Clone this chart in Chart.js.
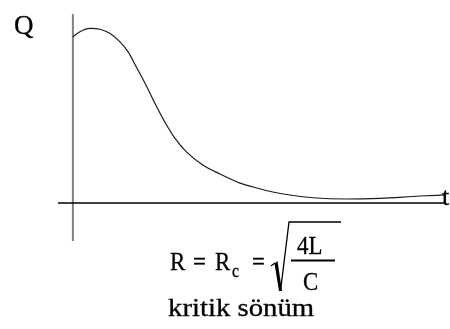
<!DOCTYPE html>
<html>
<head>
<meta charset="utf-8">
<script src="https://cdn.jsdelivr.net/npm/chart.js@4/dist/chart.umd.min.js"></script>
<style>
  html, body { margin: 0; padding: 0; background: #fff; }
  #c { display: block; }
</style>
</head>
<body>
<canvas id="c" width="450" height="329"></canvas>
<script>
// Charge on the capacitor vs time, critically damped RLC circuit
const times  = [0, 0.19, 0.46, 0.73, 0.99, 1.26, 1.48, 1.72, 1.99, 2.2, 2.47, 2.74, 3.06, 3.49, 3.95, 4.49, 4.94, 5.37, 5.83, 6.45, 7.36, 8.25, 9.33, 10];
const charge = [0.949, 0.979, 0.998, 0.993, 0.970, 0.922, 0.865, 0.771, 0.663, 0.571, 0.463, 0.371, 0.291, 0.217, 0.166, 0.114, 0.086, 0.063, 0.046, 0.030, 0.023, 0.027, 0.040, 0.046];

const yAxisTitle = 'Q';
const xAxisTitle = 't';
const caption = 'kritik sönüm';

const SERIF = "'Liberation Serif', 'Times New Roman', serif";

// draw text with an optional horizontal stretch, slightly emboldened
function txt(ctx, s, x, y, size, sx) {
  ctx.save();
  ctx.font = 'normal ' + size + 'px ' + SERIF;
  ctx.fillStyle = '#000';
  ctx.strokeStyle = '#000';
  ctx.lineWidth = 0.3;
  ctx.textBaseline = 'alphabetic';
  ctx.textAlign = 'left';
  ctx.translate(x, y);
  ctx.scale(sx || 1, 1);
  ctx.fillText(s, 0, 0);
  ctx.strokeText(s, 0, 0);
  ctx.restore();
}

const axesPlugin = {
  id: 'crossAxes',
  beforeDatasetsDraw(chart) {
    const { ctx, chartArea: a, scales: { x, y } } = chart;
    const x0 = x.getPixelForValue(0);
    const y0 = y.getPixelForValue(0);
    ctx.save();
    ctx.strokeStyle = '#808080';
    ctx.lineWidth = 2;
    ctx.beginPath();
    ctx.moveTo(x0, a.top);
    ctx.lineTo(x0, a.bottom);
    ctx.stroke();
    ctx.strokeStyle = '#000';
    ctx.lineWidth = 1.5;
    ctx.beginPath();
    ctx.moveTo(a.left, y0);
    ctx.lineTo(a.right, y0);
    ctx.stroke();
    ctx.restore();
  }
};

const labelPlugin = {
  id: 'labels',
  afterDraw(chart) {
    const { ctx, chartArea: a, scales: { y } } = chart;
    const y0 = y.getPixelForValue(0);
    txt(ctx, yAxisTitle, 14, 34, 27);
    txt(ctx, xAxisTitle, a.right - 3, y0 + 2, 26);

    // R = Rc = sqrt(4L / C)
    const fs = 26, sx = 0.88;
    txt(ctx, 'R', 170, 270, fs, sx);
    txt(ctx, '=', 193, 270, fs, sx);
    txt(ctx, 'R', 215, 270, fs, sx);
    txt(ctx, 'c', 232, 277, 18, sx);
    txt(ctx, '=', 252, 270, fs, sx);

    ctx.save();
    ctx.strokeStyle = '#000';
    ctx.fillStyle = '#000';
    ctx.lineJoin = 'miter';
    // radical sign
    ctx.lineWidth = 1.2;
    ctx.beginPath();
    ctx.moveTo(271, 266);
    ctx.lineTo(275, 263);
    ctx.stroke();
    ctx.beginPath();
    ctx.moveTo(274.5, 263.5);
    ctx.lineTo(277.5, 261);
    ctx.lineTo(282, 291);
    ctx.lineTo(279, 291);
    ctx.closePath();
    ctx.fill();
    ctx.lineWidth = 1.3;
    ctx.beginPath();
    ctx.moveTo(280.5, 291);
    ctx.lineTo(289, 222);
    ctx.lineTo(341, 222);
    ctx.stroke();
    // fraction bar
    ctx.lineWidth = 2;
    ctx.beginPath();
    ctx.moveTo(291, 260.5);
    ctx.lineTo(335, 260.5);
    ctx.stroke();
    ctx.restore();

    txt(ctx, '4L', 297, 254, fs, sx);
    txt(ctx, 'C', 303, 290, fs, sx);

    txt(ctx, caption, 168, 316, 25, 1.15);
  }
};

new Chart(document.getElementById('c'), {
  type: 'line',
  data: {
    datasets: [{
      data: times.map((t, i) => ({ x: t, y: charge[i] })),
      borderColor: '#1a1a1a',
      borderWidth: 1.2,
      pointRadius: 0,
      cubicInterpolationMode: 'monotone',
      fill: false
    }]
  },
  options: {
    responsive: false,
    animation: false,
    devicePixelRatio: 1,
    layout: { padding: { left: 58, right: 5, top: 14, bottom: 88 } },
    scales: {
      x: { type: 'linear', min: -0.4, max: 10, display: false },
      y: { min: -0.217, max: 1.08, display: false }
    },
    plugins: { legend: { display: false }, tooltip: { enabled: false } }
  },
  plugins: [axesPlugin, labelPlugin]
});
</script>
</body>
</html>
